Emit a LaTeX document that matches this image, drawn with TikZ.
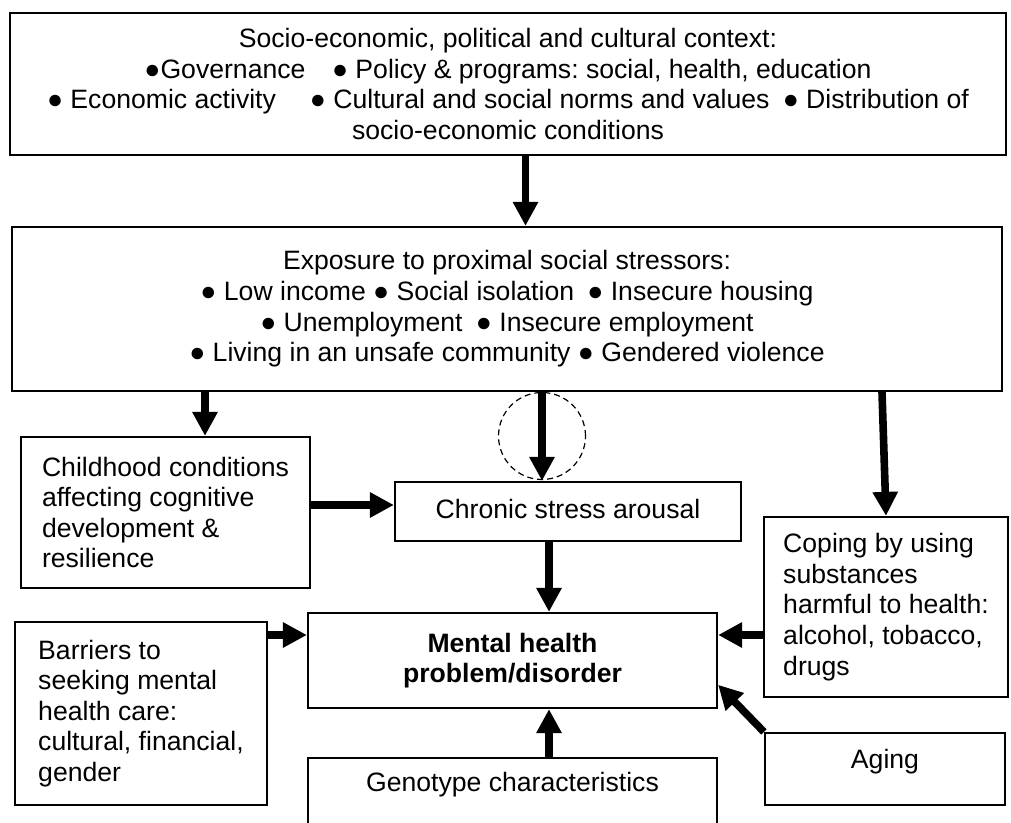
\documentclass[tikz,border=0pt]{standalone}
\usepackage{fontspec}
\setmainfont{Liberation Sans}
\frenchspacing
\usetikzlibrary{arrows.meta,calc}
\tikzset{
  box/.style={draw, line width=1.1pt, inner sep=0pt, align=center,
    font=\fontsize{13.3pt}{15.3pt}\selectfont},
  leftbox/.style={box, align=left},
  onebox/.style={box, text height=9.5pt, text depth=2.7pt},
  bigarrow/.style={line width=3.8pt, -{Triangle[length=12pt,width=12pt]}},
}

\begin{document}
\begin{tikzpicture}[x=0.5pt,y=-0.5pt]
\useasboundingbox (0,0) rectangle (1011,823);
\clip (0,0) rectangle (1011,823);
% Draw the two context boxes
\node[box, minimum width=498pt, minimum height=71pt] (context) at (508,84)
  {Socio-economic, political and cultural context:\\
   ●Governance\quad ● Policy \& programs: social, health, education\\
   ● Economic activity\quad\ ● Cultural and social norms and values\enspace ● Distribution of\\
   socio-economic conditions};
\node[box, minimum width=495pt, minimum height=82pt] (stressors) at (507,309)
  {Exposure to proximal social stressors:\\
   ● Low income ● Social isolation\enspace ● Insecure housing\\
   ● Unemployment\enspace ● Insecure employment\\
   ● Living in an unsafe community ● Gendered violence};
% Draw the side boxes
\node[leftbox, minimum width=144.5pt, minimum height=75.5pt] (childhood) at (165.5,512.5)
  {Childhood conditions\\ affecting cognitive\\ development \&\\ resilience};
\node[onebox, minimum width=173pt, minimum height=29.5pt] (chronic) at (568,511.5)
  {Chronic stress arousal};
\node[leftbox, minimum width=122pt, minimum height=90pt] (coping) at (886,607)
  {Coping by using\\ substances\\ harmful to health:\\ alcohol, tobacco,\\ drugs};
\node[leftbox, minimum width=126pt, minimum height=91.5pt] (barriers) at (141,713.5)
  {Barriers to\\ seeking mental\\ health care:\\ cultural, financial,\\ gender};
% Draw the outcome box
\node[box, minimum width=204.5pt, minimum height=47.5pt, font=\fontsize{13.3pt}{15.3pt}\selectfont\bfseries]
  (mental) at (512.5,660.5) {Mental health\\ problem/disorder};
\node[box, minimum width=204.5pt, text height=13.5pt, text depth=30pt, inner ysep=3pt,
  anchor=north] (geno) at (512.5,757) {Genotype characteristics};
\node[onebox, minimum width=120pt, text height=9.3pt, text depth=10.3pt,
  minimum height=36pt] (aging) at (885,769) {Aging};
% Draw the dashed ring
\node[draw, circle, line width=0.6pt, dash pattern=on 3pt off 2pt, minimum size=43.5pt]
  (ring) at (542,436) {};
\coordinate (col) at (549,0);
\coordinate (row) at (0,635);
\coordinate (cin) at ([yshift=3.25pt]chronic.west);
% Draw the arrows
\draw[bigarrow] ([xshift=8.75pt]context.south) -- ([xshift=8.75pt]context.south |- stressors.north);
\draw[bigarrow] ([xshift=19.75pt]childhood.north |- stressors.south) -- ([xshift=19.75pt]childhood.north);
\draw[bigarrow] (ring |- stressors.south) -- (ring |- chronic.north);
\draw[bigarrow] ([xshift=-2pt]coping.north |- stressors.south) -- (coping.north);
\draw[bigarrow] (childhood.east |- cin) -- (cin);
\draw[bigarrow] (col |- chronic.south) -- (col |- mental.north);
\draw[bigarrow] (barriers.east |- row) -- (mental.west |- row);
\draw[bigarrow] (coping.west |- row) -- (mental.east |- row);
\draw[bigarrow] (aging.north west) -- ($(mental.south east)!0.25!(mental.north east)$);
\draw[bigarrow] (col |- geno.north) -- (col |- mental.south);
\end{tikzpicture}
\end{document}
